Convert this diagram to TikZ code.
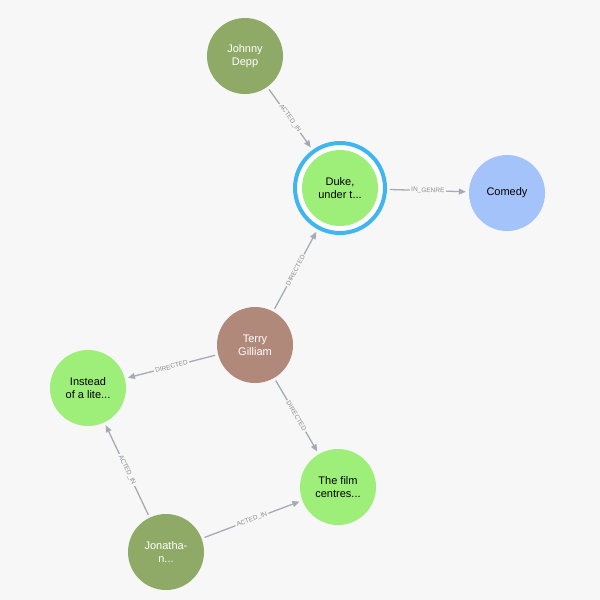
\documentclass[tikz,border=0pt]{standalone}
\usepackage{fontspec}
\setmainfont{Liberation Sans}
\usetikzlibrary{arrows.meta}
\definecolor{bg}{HTML}{F7F7F7}
\definecolor{olive}{HTML}{8FAA67}
\definecolor{lgreen}{HTML}{9DEF7A}
\definecolor{lblue}{HTML}{A5C3FB}
\definecolor{brown}{HTML}{B0897A}
\definecolor{ring}{HTML}{3FB6F0}
\definecolor{edge}{HTML}{A5ABB6}
\tikzset{
 nd/.style={circle,minimum size=76pt,inner sep=0pt,align=center,font=\fontsize{11}{13}\selectfont},
 person/.style={nd,fill=olive,text=white},
 movie/.style={nd,fill=lgreen,text=black},
 genre/.style={nd,fill=lblue,text=black},
 director/.style={nd,fill=brown,text=white},
 halo/.style={circle,minimum size=90pt,inner sep=0pt,fill=white,draw=ring,line width=4pt},
 rel/.style={draw=edge,line width=1.3pt,-{Triangle[length=7pt,width=6pt]},shorten >=3pt,shorten <=3pt},
 lab/.style={midway,sloped,fill=bg,inner sep=1.5pt,text=gray!90,font=\fontsize{6.5}{7}\selectfont}
}
\begin{document}
\begin{tikzpicture}[x=1pt,y=-1pt]
\fill[bg] (0,0) rectangle (600,600);
\useasboundingbox (0,0) rectangle (600,600);
\node[person] (jd) at (245,56) {Johnny\\Depp};
\node[halo] (dukering) at (340,188) {};
\node[movie] (duke) at (340,188) {Duke,\\under t...};
\node[genre] (com) at (507,193) {Comedy};
\node[director] (tg) at (255,345) {Terry\\Gilliam};
\node[movie] (ins) at (88,388) {Instead\\of a lite...};
\node[movie] (film) at (338,487) {The film\\centres...};
\node[person] (jon) at (166,552) {Jonatha-\\n...};
\draw[rel] (jd) -- node[lab]{ACTED\_IN} (dukering);
\draw[rel] (dukering) -- node[lab]{IN\_GENRE} (com);
\draw[rel] (tg) -- node[lab]{DIRECTED} (dukering);
\draw[rel] (tg) -- node[lab]{DIRECTED} (ins);
\draw[rel] (tg) -- node[lab]{DIRECTED} (film);
\draw[rel] (jon) -- node[lab]{ACTED\_IN} (ins);
\draw[rel] (jon) -- node[lab]{ACTED\_IN} (film);
\end{tikzpicture}
\end{document}
